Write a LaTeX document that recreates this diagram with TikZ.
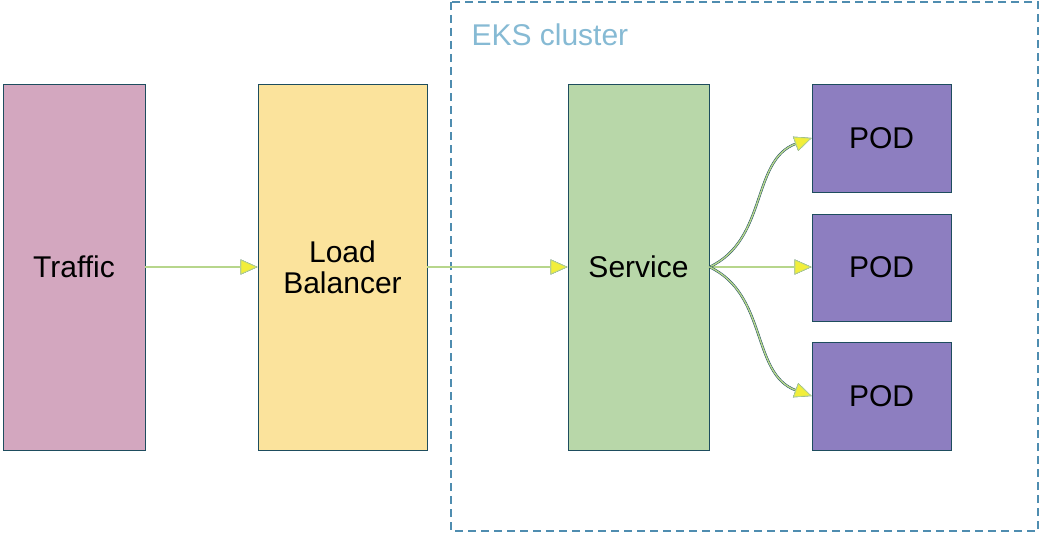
\documentclass[tikz,border=0pt]{standalone}
\usepackage{fontspec}
\setmainfont{Liberation Sans}
\usetikzlibrary{arrows.meta}
\definecolor{trafficc}{HTML}{D3A7BF}
\definecolor{lbc}{HTML}{FBE39C}
\definecolor{svcc}{HTML}{B8D7A9}
\definecolor{podc}{HTML}{8D7EC0}
\definecolor{edgec}{HTML}{1E4D5E}
\definecolor{linec}{HTML}{B7D68C}
\definecolor{tipc}{HTML}{F2EE3A}
\definecolor{clusterc}{HTML}{4F8DB0}
\definecolor{clustertxt}{HTML}{86BAD4}
\tikzset{
  blockbox/.style={draw=edgec, line width=0.9pt, inner sep=0pt, align=center,
    font=\fontsize{30}{31}\selectfont},
  flowarrow/.style={draw=linec, line width=1.4pt,
    -{Triangle[length=17pt,width=15pt,fill=tipc,line width=0.8pt]},
    preaction={draw=edgec, line width=2.4pt}},
}
\begin{document}
\begin{tikzpicture}[x=1pt,y=-1pt]
\useasboundingbox[fill=white] (0,0) rectangle (1043,535);
\draw[draw=clusterc, line width=1.4pt, dash pattern=on 8pt off 5pt] (451,2) rectangle (1038,531);
\node[anchor=west, text=clustertxt, font=\fontsize{30}{32}\selectfont] (eks) at (468,35) {EKS cluster};
\node[blockbox, fill=trafficc, minimum width=142pt, minimum height=366pt] (traffic) at (74,267) {Traffic};
\node[blockbox, fill=lbc, minimum width=169pt, minimum height=366pt] (lb) at (342.5,267) {Load\\Balancer};
\node[blockbox, fill=svcc, minimum width=141pt, minimum height=366pt] (svc) at (638.5,267) {Service};
\node[blockbox, fill=podc, minimum width=139pt, minimum height=108pt] (pod1) at (881.5,138) {POD};
\node[blockbox, fill=podc, minimum width=139pt, minimum height=107pt] (pod2) at (881.5,267.5) {POD};
\node[blockbox, fill=podc, minimum width=139pt, minimum height=108pt] (pod3) at (881.5,396) {POD};
\draw[flowarrow] (traffic.east) -- (lb.west);
\draw[flowarrow] (lb.east) -- (svc.west);
\draw[flowarrow] (svc.east) -- (pod2.west |- svc.east);
\draw[flowarrow] (svc.east) to[out=25, in=200] (pod1.west);
\draw[flowarrow] (svc.east) to[out=-25, in=160] (pod3.west);
\end{tikzpicture}
\end{document}
